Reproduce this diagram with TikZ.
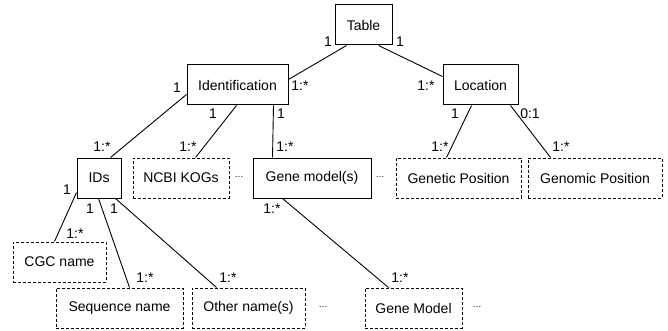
\documentclass[tikz,border=0pt]{standalone}
\usepackage{fontspec}
\setmainfont{Liberation Sans}
\begin{document}
\begin{tikzpicture}[x=1pt,y=-1pt,
  every node/.style={font=\fontsize{14}{16}\selectfont},
  box/.style={draw, line width=1pt, minimum height=40pt, inner sep=0pt},
  dbox/.style={box, dash pattern=on 3pt off 2pt},
  conn/.style={line width=0.9pt},
  lbl/.style={inner sep=0pt},
  dots/.style={inner sep=0pt, font=\fontsize{9}{10}\selectfont}]
\useasboundingbox (0,0) rectangle (668,331);
% boxes
\node[box, minimum width=57pt] (table) at (363.5,25) {Table};
\node[box, minimum width=101pt] (ident) at (237.5,85) {Identification};
\node[box, minimum width=75pt] (loc) at (480.5,85) {Location};
\node[box, minimum width=44pt] (ids) at (99,178) {IDs};
\node[dbox, minimum width=96pt] (ncbi) at (181,178) {NCBI KOGs};
\node[box, minimum width=118pt] (gms) at (312,178) {Gene model(s)};
\node[dbox, minimum width=125pt] (genetic) at (458.5,178) {Genetic Position};
\node[dbox, minimum width=134pt] (genomic) at (595,178) {Genomic Position};
\node[dbox, minimum width=93pt] (cgc) at (59.5,262) {CGC name};
\node[dbox, minimum width=127pt] (seq) at (119.5,308) {Sequence name};
\node[dbox, minimum width=113pt] (other) at (248.5,308) {Other name(s)};
\node[dbox, minimum width=97pt] (gm) at (413.5,308) {Gene Model};
% dots
\node[dots] (d1) at (239,177) {…};
\node[dots] (d2) at (380,177) {…};
\node[dots] (d3) at (323,307) {…};
\node[dots] (d4) at (477,307) {…};
% connectors
\draw[conn] ([xshift=12pt]table.south west) -- ([yshift=-15pt]ident.north east);
\draw[conn] ([xshift=-14pt]table.south east) -- ([yshift=-12pt]loc.north west);
\draw[conn] ([yshift=11pt]ident.south west) -- ([xshift=-11pt]ids.north east);
\draw[conn] ([xshift=50pt]ident.south west) -- ([xshift=-34pt]ncbi.north east);
\draw[conn] ([xshift=-15pt]ident.south east) -- ([xshift=20pt]gms.north west);
\draw[conn] ([xshift=29pt]loc.south west) -- ([xshift=51pt]genetic.north west);
\draw[conn] ([xshift=-8pt]loc.south east) -- ([xshift=23pt]genomic.north west);
\draw[conn] ([yshift=6pt]ids.south west) -- ([xshift=42pt]cgc.north west);
\draw[conn] ([xshift=22pt]ids.south west) -- ([xshift=74pt]seq.north west);
\draw[conn] ([xshift=-6pt]ids.south east) -- ([xshift=25pt]other.north west);
\draw[conn] ([xshift=30pt]gms.south west) -- ([xshift=24pt]gm.north west);
% multiplicity labels
\node[lbl] (l1) at (328,42) {1};
\node[lbl] (l2) at (400,42) {1};
\node[lbl] (l3) at (300,86) {1:*};
\node[lbl] (l4) at (426,86) {1:*};
\node[lbl] (l5) at (177,88) {1};
\node[lbl] (l6) at (213,114) {1};
\node[lbl] (l7) at (281,114) {1};
\node[lbl] (l8) at (102,147) {1:*};
\node[lbl] (l9) at (188,147) {1:*};
\node[lbl] (l10) at (285,147) {1:*};
\node[lbl] (l11) at (455,114) {1};
\node[lbl] (l12) at (530,114) {0:1};
\node[lbl] (l13) at (440,147) {1:*};
\node[lbl] (l14) at (561,147) {1:*};
\node[lbl] (l15) at (67,190) {1};
\node[lbl] (l16) at (90,209) {1};
\node[lbl] (l17) at (114,209) {1};
\node[lbl] (l18) at (272,209) {1:*};
\node[lbl] (l19) at (75,234) {1:*};
\node[lbl] (l20) at (145,278) {1:*};
\node[lbl] (l21) at (228,278) {1:*};
\node[lbl] (l22) at (400,278) {1:*};
\end{tikzpicture}
\end{document}
